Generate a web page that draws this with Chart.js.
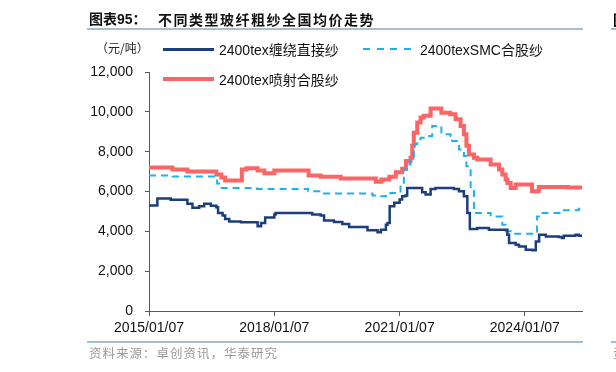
<!DOCTYPE html>
<html>
<head>
<meta charset="utf-8">
<script src="https://cdn.jsdelivr.net/npm/chart.js@4.4.1/dist/chart.umd.min.js"></script>
<style>
  html, body { margin: 0; padding: 0; background: #fff; }
  #wrap { position: relative; width: 616px; height: 372px; overflow: hidden; font-family: "Liberation Sans", Arial, "Noto Sans CJK SC", sans-serif; }
  #c { position: absolute; left: 0; top: 0; }
  .abs { position: absolute; white-space: nowrap; }
  .rule { position: absolute; height: 2px; background: #a9bdd1; }
  .title { left: 89px; top: 9px; font-size: 14px; font-weight: bold; color: #111; line-height: 20px; }
  .title .cn { font-family: "Noto Sans CJK SC", sans-serif; letter-spacing: 1.5px; position: absolute; left: 69px; top: 0; }
  .unit { left: 96px; top: 40px; font-size: 12px; line-height: 16px; color: #222; font-family: "Noto Sans CJK SC", sans-serif; }
  .leg { font-size: 14px; line-height: 18px; color: #111; }
  .leg .cn { font-family: "Noto Sans CJK SC", sans-serif; }
  .swatch { position: absolute; width: 51px; }
  .src { left: 89px; top: 344px; font-size: 12.5px; line-height: 18px; color: #9a9a9a; font-family: "Noto Sans CJK SC", sans-serif; letter-spacing: 1px; }
</style>
</head>
<body>
<div id="wrap">
  <canvas id="c" width="616" height="372"></canvas>
  <div class="abs title">图表95：<span class="cn">不同类型玻纤粗纱全国均价走势</span></div>
  <div class="rule" style="left:87px; top:28px; width:496px;"></div>
  <div class="rule" style="left:611px; top:28px; width:10px;"></div>
  <div class="abs" style="left:613px; top:10px; font-size:14px; font-weight:bold; font-family:'Noto Sans CJK SC',sans-serif; line-height:18px;">图</div>
  <div class="abs unit">（元/吨）</div>

  <div class="swatch" style="left:163px; top:48px; height:3px; background:#1c3f7b;"></div>
  <div class="abs leg" style="left:219px; top:40px;">2400tex<span class="cn">缠绕直接纱</span></div>
  <div class="swatch" style="left:363px; top:48px; height:2px; width:50px; background:repeating-linear-gradient(90deg,#1db1ef 0 7px,transparent 7px 13.5px);"></div>
  <div class="abs leg" style="left:420px; top:40px;">2400texSMC<span class="cn">合股纱</span></div>
  <div class="swatch" style="left:163px; top:77px; height:4px; background:#fb6565;"></div>
  <div class="abs leg" style="left:219px; top:70px;">2400tex<span class="cn">喷射合股纱</span></div>

  <div class="rule" style="left:87px; top:341px; width:496px;"></div>
  <div class="rule" style="left:611px; top:341px; width:10px;"></div>
  <div class="abs src">资料来源：卓创资讯，华泰研究</div>
  <div class="abs src" style="left:613px;">资</div>
</div>
<script>
// ---- data (dates where each level starts; stepped lines) ----
const xTickDates = ['2015-01-07', '2018-01-07', '2021-01-07', '2024-01-07'];
const yTicks = [0, 2000, 4000, 6000, 8000, 10000, 12000];
const startDate = '2015-01-07';
const endDate = '2025-05-21';

const directDates = ['2015-01-07','2015-03-21','2015-07-16','2015-12-09','2016-01-22','2016-03-21','2016-05-04','2016-07-01','2016-08-18','2016-09-02','2016-10-12','2016-11-03','2016-12-09','2017-03-21','2017-08-14','2017-09-13','2017-10-19','2018-01-07','2018-01-18','2018-12-05','2019-02-16','2019-03-18','2019-06-13','2019-08-25','2019-10-23','2020-04-01','2020-06-28','2020-07-27','2020-09-09','2020-09-23','2020-10-12','2020-11-21','2021-01-07','2021-01-29','2021-02-27','2021-03-14','2021-07-23','2021-08-22','2021-10-05','2021-11-17','2022-04-27','2022-06-10','2022-07-23','2022-08-22','2022-09-13','2022-11-17','2023-02-27','2023-08-07','2023-08-22','2023-10-19','2023-11-17','2024-01-15','2024-03-14','2024-04-12','2024-05-11','2024-07-09','2024-10-30','2024-11-28','2024-12-13','2025-03-25','2025-04-23','2025-05-21'];
const directValues = [5300,5650,5580,5380,5180,5260,5380,5290,5210,4920,4790,4620,4500,4450,4250,4420,4700,4840,4920,4840,4790,4550,4470,4370,4220,4050,3950,4080,4330,4420,5260,5430,5600,5760,5800,6180,5960,5850,6130,6180,6130,6010,5760,4920,4120,4170,4080,3830,3410,3330,3240,3080,3050,3490,3830,3745,3710,3660,3780,3830,3780,3710];

const smcDates = ['2015-01-07','2015-07-31','2016-08-25','2016-09-20','2017-08-07','2018-10-30','2019-02-16','2020-05-15','2020-07-12','2020-09-09','2020-10-19','2021-01-15','2021-02-13','2021-03-14','2021-04-12','2021-05-11','2021-06-10','2021-07-09','2021-09-22','2021-10-19','2022-01-07','2022-03-29','2022-04-12','2022-06-10','2022-07-23','2022-08-14','2022-09-20','2022-10-19','2023-03-14','2023-06-24','2023-07-23','2023-09-20','2024-04-23','2024-05-26','2024-12-13','2025-04-23','2025-05-21'];
const smcValues = [6800,6750,6400,6180,6130,6010,5900,5800,5760,5830,5930,6350,7100,7360,7530,8370,8620,8700,8790,9290,8870,8790,8530,8110,7780,7270,6100,4920,4750,4330,4000,3880,4750,4920,5060,5130,5130];

const sprayDates = ['2015-01-07','2015-07-31','2015-12-09','2016-08-18','2016-10-01','2016-11-03','2017-03-29','2017-05-08','2017-08-14','2017-10-12','2018-01-07','2018-11-03','2019-02-16','2019-08-11','2020-06-13','2020-07-31','2020-10-08','2020-12-05','2021-01-29','2021-03-03','2021-04-12','2021-04-27','2021-05-11','2021-06-10','2021-07-09','2021-08-07','2021-10-05','2022-01-07','2022-03-25','2022-05-11','2022-06-24','2022-07-23','2022-08-14','2022-09-05','2022-10-19','2022-11-17','2023-03-14','2023-05-26','2023-06-24','2023-07-23','2023-08-07','2023-09-05','2023-10-19','2024-03-10','2024-05-08','2025-01-15','2025-05-21'];
const sprayValues = [7200,7100,7000,6850,6700,6550,7100,7170,7050,6920,7050,6800,6740,6650,6490,6600,6740,6970,7140,7530,7700,8300,8950,9460,9710,9800,10170,9950,9880,9630,9290,8870,8300,7860,7700,7610,7360,7100,6850,6600,6430,6180,6350,6010,6230,6200,6180];

const seriesNames = ['2400tex缠绕直接纱', '2400texSMC合股纱', '2400tex喷射合股纱'];

// ---- helpers ----
const DAY = 86400000;
const base = Date.parse(startDate + 'T00:00:00Z');
const d2x = s => (Date.parse(s + 'T00:00:00Z') - base) / DAY;
const fmt = v => { const d = new Date(base + Math.round(v) * DAY); const p = n => String(n).padStart(2, '0'); return d.getUTCFullYear() + '/' + p(d.getUTCMonth() + 1) + '/' + p(d.getUTCDate()); };
const pts = (ds, vs) => ds.map((d, i) => ({ x: d2x(d), y: vs[i] }));

const axisColor = '#595959';
const tickFont = { family: '"Liberation Sans", Arial, sans-serif', size: 14 };

new Chart(document.getElementById('c'), {
  type: 'line',
  data: {
    datasets: [
      { label: seriesNames[0], data: pts(directDates, directValues), borderColor: '#1c3f7b', borderWidth: 2.5, stepped: true, pointRadius: 0, fill: false },
      { label: seriesNames[1], data: pts(smcDates, smcValues), borderColor: '#1db1ef', borderWidth: 2, borderDash: [7, 5], stepped: true, pointRadius: 0, fill: false },
      { label: seriesNames[2], data: pts(sprayDates, sprayValues), borderColor: '#fb6565', borderWidth: 4, stepped: true, pointRadius: 0, fill: false }
    ]
  },
  options: {
    responsive: false,
    animation: false,
    devicePixelRatio: 1,
    layout: { padding: { left: 0, top: 72, right: 34, bottom: 31 } },
    plugins: { legend: { display: false }, tooltip: { enabled: false } },
    scales: {
      x: {
        type: 'linear',
        min: 0,
        max: d2x(endDate),
        afterBuildTicks: s => { s.ticks = xTickDates.map(d => ({ value: d2x(d) })); },
        afterFit: s => { s.height = 30; },
        ticks: { callback: v => fmt(v), font: tickFont, color: '#111', padding: 4, maxRotation: 0, autoSkip: false },
        grid: { drawOnChartArea: false, drawTicks: true, tickLength: 5, color: axisColor },
        border: { color: axisColor, width: 1 }
      },
      y: {
        min: 0,
        max: 12000,
        afterBuildTicks: s => { s.ticks = yTicks.map(v => ({ value: v })); },
        afterFit: s => { s.width = 149; },
        ticks: { callback: v => v.toLocaleString('en-US'), font: tickFont, color: '#111', padding: 12 },
        grid: { drawOnChartArea: false, drawTicks: true, tickLength: 4, color: axisColor },
        border: { color: axisColor, width: 1 }
      }
    }
  }
});
</script>
</body>
</html>
